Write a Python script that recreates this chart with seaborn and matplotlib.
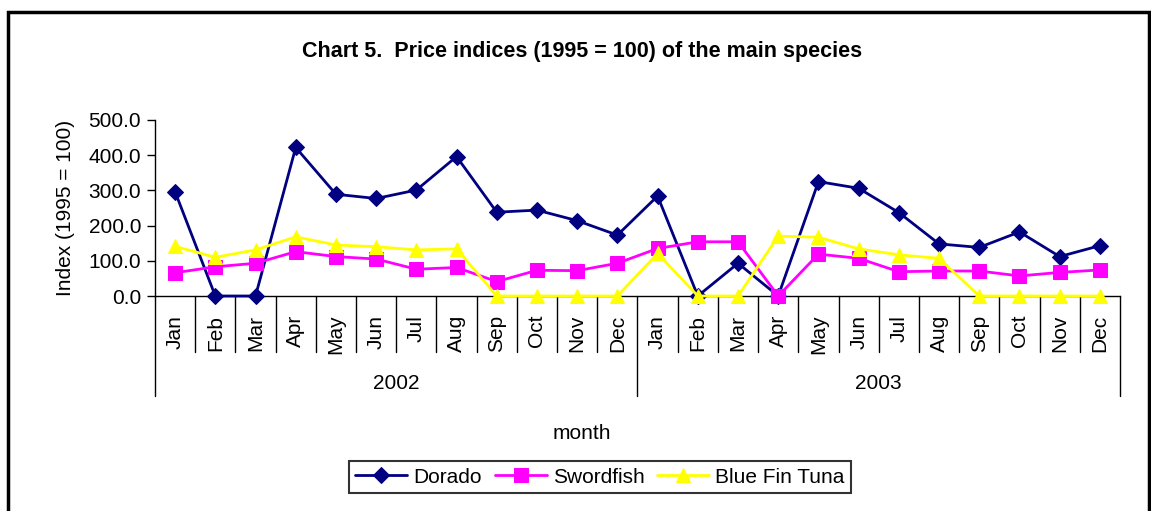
import matplotlib
matplotlib.use("Agg")
import matplotlib.pyplot as plt
import matplotlib.patches as mpatches
from matplotlib.ticker import FormatStrFormatter
import seaborn as sns
import pandas as pd

months = ["Jan", "Feb", "Mar", "Apr", "May", "Jun",
          "Jul", "Aug", "Sep", "Oct", "Nov", "Dec"]
years = ["2002", "2003"]

dorado = [296, 0, 0, 422, 289, 277, 301, 396, 238, 244, 214, 173,
          284, 0, 93, 0, 325, 306, 237, 148, 138, 182, 112, 143]
swordfish = [66, 83, 93, 126, 112, 105, 76, 81, 41, 73, 72, 93,
             135, 154, 154, 0, 119, 107, 69, 71, 71, 57, 67, 74]
tuna = [141, 110, 131, 168, 145, 140, 131, 134, 0, 0, 0, 0,
        121, 0, 0, 170, 167, 134, 117, 107, 0, 0, 0, 0]

species = ["Dorado", "Swordfish", "Blue Fin Tuna"]
colors = ["#000080", "#FF00FF", "#FFFF00"]
markers = ["D", "s", "^"]
msizes = [8, 10, 10]

sns.set_style("white")
plt.rcParams["font.family"] = ["Liberation Sans", "DejaVu Sans"]
plt.rcParams["text.color"] = "black"
plt.rcParams["axes.labelcolor"] = "black"
plt.rcParams["xtick.color"] = "black"
plt.rcParams["ytick.color"] = "black"

rows = []
for name, vals in zip(species, [dorado, swordfish, tuna]):
    for i, v in enumerate(vals):
        rows.append({"pos": i, "value": v, "species": name})
df = pd.DataFrame(rows)

fig = plt.figure(figsize=(11.51, 5.11), dpi=100)
ax = fig.add_axes([155 / 1151, 1 - 296 / 511, (1120 - 155) / 1151, (296 - 120) / 511])

for name, col, mk, ms in zip(species, colors, markers, msizes):
    sub = df[df["species"] == name]
    sns.lineplot(data=sub, x="pos", y="value", ax=ax, color=col, marker=mk,
                 markersize=ms, markeredgecolor=col, linewidth=2, label=name,
                 clip_on=False, zorder=3)

ax.set_xlim(-0.5, 23.5)
ax.set_ylim(0, 500)
ax.set_yticks([0, 100, 200, 300, 400, 500])
ax.yaxis.set_major_formatter(FormatStrFormatter("%.1f"))
ax.tick_params(axis="y", left=True, length=6, width=1, labelsize=15, pad=4,
               color="black", labelcolor="black")
ax.set_xticks(range(24))
ax.set_xticklabels(months * 2, rotation=90, fontsize=15, color="black")
ax.tick_params(axis="x", bottom=False, pad=10)
ax.set_xlabel("")
ax.set_ylabel("Index (1995 = 100)", fontsize=15, labelpad=10, color="black")

for s in ["top", "right"]:
    ax.spines[s].set_visible(False)
for s in ["left", "bottom"]:
    ax.spines[s].set_color("black")
    ax.spines[s].set_linewidth(1)

# two-level category axis separators
trans = ax.get_xaxis_transform()
h_px = 296 - 120
short = -(352 - 296) / h_px
tall = -(396 - 296) / h_px
for b in range(25):
    x = b - 0.5
    y0 = tall if b in (0, 12, 24) else short
    ax.plot([x, x], [0, y0], color="black", lw=1, transform=trans, clip_on=False)
for k, yr in enumerate(years):
    ax.text(5.5 + 12 * k, -(383 - 296) / h_px, yr, transform=trans,
            ha="center", va="center", fontsize=15, color="black")

fig.text(582 / 1151, 1 - 433 / 511, "month", ha="center", va="center",
         fontsize=15, color="black")
fig.text(582 / 1151, 1 - 52 / 511, "Chart 5.  Price indices (1995 = 100) of the main species",
         ha="center", va="center", fontsize=15.5, fontweight="bold", color="black")

leg = ax.legend(loc="center", bbox_to_anchor=(600 / 1151, 1 - 477 / 511),
                bbox_transform=fig.transFigure, ncol=3, fontsize=15, frameon=True,
                fancybox=False, edgecolor="black", handlelength=2.5,
                columnspacing=0.6, handletextpad=0.3, borderpad=0.3,
                labelcolor="black")
leg.get_frame().set_linewidth(1.5)

fig.patches.append(mpatches.Rectangle((8 / 1151, -0.1), (1149 - 8) / 1151, 1.1 - 12 / 511,
                                      transform=fig.transFigure, fill=False,
                                      edgecolor="black", linewidth=2.5))

fig.savefig("out.png", dpi=100)
